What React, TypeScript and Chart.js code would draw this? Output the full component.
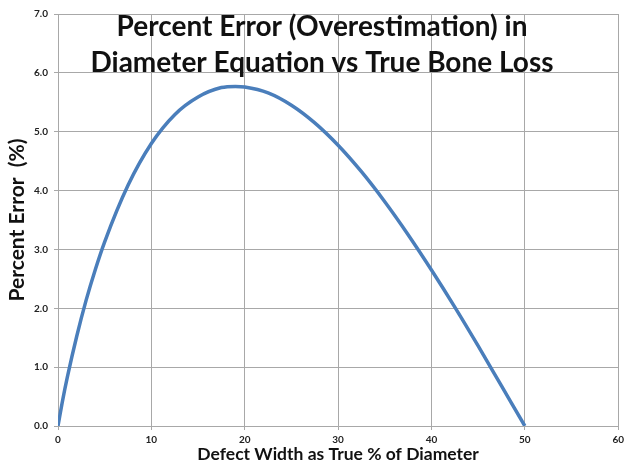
import React, { useEffect, useRef } from "react";
import { Chart, registerables } from "chart.js";

Chart.register(...registerables);

const defectWidth = [0, 0.5, 1, 2, 3, 4, 5, 7.5, 10, 12.5, 15, 17.5, 19, 20, 22.5, 25, 27.5, 30, 32.5, 35, 37.5, 40, 42.5, 45, 47.5, 50];
const percentError = [0, 0.44, 0.83, 1.52, 2.13, 2.66, 3.13, 4.09, 4.8, 5.29, 5.59, 5.75, 5.77, 5.76, 5.66, 5.45, 5.15, 4.77, 4.32, 3.81, 3.25, 2.65, 2.02, 1.36, 0.68, 0];
const xTickValues = [0, 10, 20, 30, 40, 50, 60];
const yTickValues = [0, 1, 2, 3, 4, 5, 6, 7];
const titleLines = ["Percent Error (Overestimation) in", "Diameter Equation vs True Bone Loss"];
const xAxisTitle = "Defect Width as True % of Diameter";
const yAxisTitle = "Percent Error  (%)";

const FONT = "Lato, 'Open Sans', sans-serif";
const GRID = "#a8a8a8";

const overlayTitle = {
  id: "overlayTitle",
  afterDraw(chart: any) {
    const ctx = chart.ctx;
    ctx.save();
    ctx.font = `bold 28px ${FONT}`;
    ctx.fillStyle = "#111";
    ctx.textAlign = "center";
    ctx.textBaseline = "middle";
    ctx.fillText(titleLines[0], 322, 27);
    ctx.fillText(titleLines[1], 322, 63);
    ctx.restore();
  },
};

export default function App() {
  const ref = useRef<HTMLCanvasElement | null>(null);
  useEffect(() => {
    if (!ref.current) return;
    const chart = new Chart(ref.current, {
      type: "line",
      data: {
        datasets: [
          {
            data: defectWidth.map((x, i) => ({ x, y: percentError[i] })),
            borderColor: "#4a7ebb",
            borderWidth: 3.5,
            pointRadius: 0,
            cubicInterpolationMode: "monotone",
            fill: false,
          },
        ],
      },
      options: {
        responsive: false,
        animation: false,
        layout: { padding: { top: 14, right: 6, left: 0, bottom: 0 } },
        plugins: { legend: { display: false }, tooltip: { enabled: false }, title: { display: false } },
        scales: {
          x: {
            type: "linear",
            min: 0,
            max: 60,
            afterBuildTicks: (s: any) => {
              s.ticks = xTickValues.map((v) => ({ value: v }));
            },
            afterFit: (s: any) => {
              s.height = 39;
            },
            grid: { color: GRID, lineWidth: 1, tickLength: 4, drawTicks: true },
            border: { color: GRID, width: 1 },
            ticks: {
              font: { family: FONT, size: 10, weight: "bold" },
              color: "#222",
              padding: 4,
              maxRotation: 0,
              callback: (v: any) => String(v),
            },
            title: {
              display: true,
              text: xAxisTitle,
              font: { family: FONT, size: 17.5, weight: "bold" },
              color: "#111",
              padding: { top: 0, bottom: 0 },
            },
          },
          y: {
            type: "linear",
            min: 0,
            max: 7,
            afterBuildTicks: (s: any) => {
              s.ticks = yTickValues.map((v) => ({ value: v }));
            },
            afterFit: (s: any) => {
              s.width = 58;
            },
            grid: { color: GRID, lineWidth: 1, tickLength: 4, drawTicks: true },
            border: { color: GRID, width: 1 },
            ticks: {
              font: { family: FONT, size: 10, weight: "bold" },
              color: "#222",
              padding: 6,
              callback: (v: any) => Number(v).toFixed(1),
            },
            title: {
              display: true,
              text: yAxisTitle,
              font: { family: FONT, size: 21, weight: "bold" },
              color: "#111",
              padding: { top: 5, bottom: 0 },
            },
          },
        },
      },
      plugins: [overlayTitle],
    } as any);
    return () => chart.destroy();
  }, []);
  return (
    <div style={{ position: "absolute", left: 0, top: 0, width: 628, height: 465, background: "#fff" }}>
      <canvas ref={ref} width={628} height={465} style={{ display: "block" }} />
    </div>
  );
}
